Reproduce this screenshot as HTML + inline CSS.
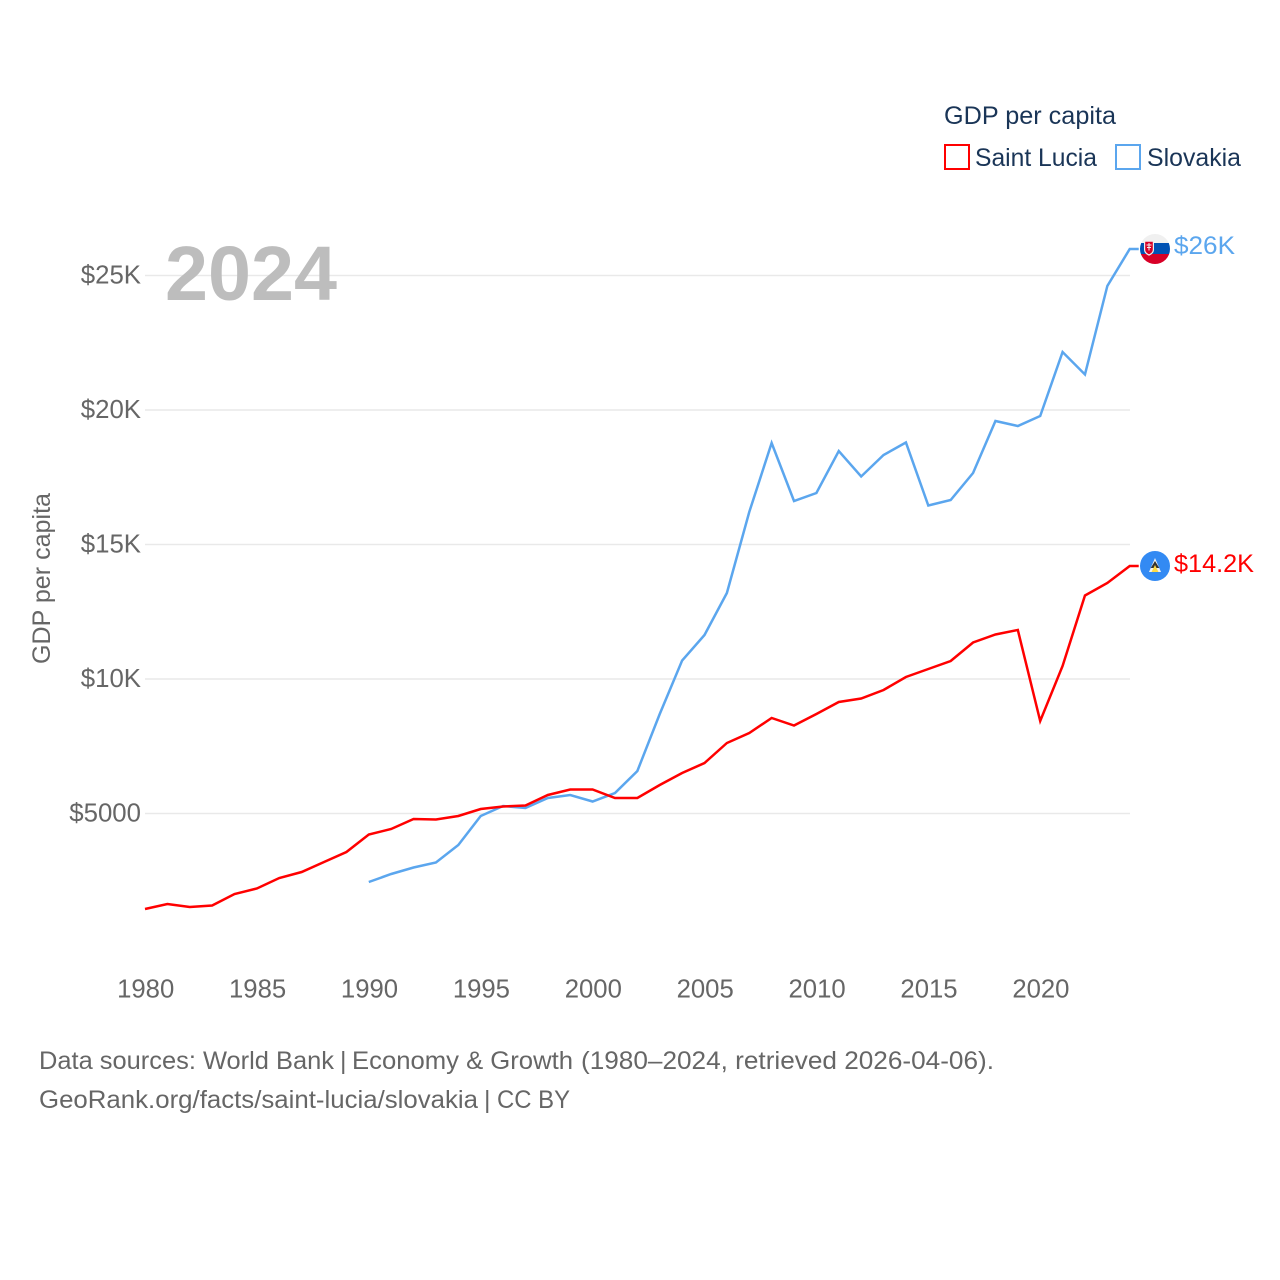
<!DOCTYPE html>
<html>
<head>
<meta charset="utf-8">
<style>
html,body{margin:0;padding:0;background:#fff;width:1280px;height:1280px;overflow:hidden}
svg{display:block;font-family:"Liberation Sans",sans-serif}
</style>
</head>
<body>
<svg id="chart" xmlns="http://www.w3.org/2000/svg" width="1280" height="1280" viewBox="0 0 1280 1280">
  <defs>
    <clipPath id="sk-clip"><circle cx="1155" cy="249" r="15"/></clipPath>
  </defs>
  <rect width="1280" height="1280" fill="#fff"/>
  <g id="grid"></g>
  <text x="165" y="300" font-size="77" font-weight="700" fill="#bdbdbd" textLength="172" lengthAdjust="spacingAndGlyphs">2024</text>
  <g id="yticks"></g>
  <g id="xticks"></g>
  <text transform="translate(50,578.500) rotate(-90)" text-anchor="middle" font-size="25" fill="#666" textLength="171" lengthAdjust="spacingAndGlyphs">GDP per capita</text>
  <g id="series"></g>

  <g clip-path="url(#sk-clip)">
    <rect x="1140" y="234" width="30" height="9" fill="#f0f0f0"/>
    <rect x="1140" y="243" width="30" height="11" fill="#0052b4"/>
    <rect x="1140" y="254" width="30" height="10" fill="#d80027"/>
    <path d="M1144 240.500h10v9c0 3.500-2.800 5.200-5 6.200c-2.200-1-5-2.700-5-6.200z" fill="#f0f0f0"/>
    <path d="M1145.200 241.700h7.600v7.800c0 2.600-1.900 3.900-3.800 4.800c-1.900-.9-3.800-2.200-3.800-4.800z" fill="#d80027"/>
    <path d="M1148.500 243h1v1.500h2v1h-2v1.500h1.500v1h-1.500v2.500h-1v-2.500h-1.500v-1h1.500v-1.500h-2v-1h2z" fill="#f0f0f0"/>
  </g>
  <g>
    <circle cx="1155" cy="566" r="15" fill="#338af3"/>
    <path d="M1155 558l6 14h-12z" fill="#f3f3f3"/>
    <path d="M1155 561l4.300 7h-8.600z" fill="#333"/>
    <path d="M1155 565l3.500 7h-7z" fill="#ffda44"/>
  </g>

  <text x="1174" y="254" font-size="25" fill="#5ba6ee" textLength="61" lengthAdjust="spacingAndGlyphs">$26K</text>
  <text x="1174" y="572" font-size="25" fill="#ff0000" textLength="80" lengthAdjust="spacingAndGlyphs">$14.2K</text>

  <g>
    <text x="944" y="124" font-size="25" fill="#1a3557" textLength="172" lengthAdjust="spacingAndGlyphs">GDP per capita</text>
    <rect x="945" y="145" width="24" height="24" fill="none" stroke="#ff0000" stroke-width="2"/>
    <text x="975" y="166" font-size="25" fill="#1a3557" textLength="122" lengthAdjust="spacingAndGlyphs">Saint Lucia</text>
    <rect x="1116" y="145" width="24" height="24" fill="none" stroke="#5ba6ee" stroke-width="2"/>
    <text x="1147" y="166" font-size="25" fill="#1a3557" textLength="94" lengthAdjust="spacingAndGlyphs">Slovakia</text>
  </g>

  <g font-size="25" fill="#666">
    <text y="1069"><tspan x="39" textLength="295" lengthAdjust="spacingAndGlyphs">Data sources: World Bank</tspan><tspan x="340">|</tspan><tspan x="352" textLength="221" lengthAdjust="spacingAndGlyphs">Economy &amp; Growth</tspan><tspan x="581" textLength="413" lengthAdjust="spacingAndGlyphs">(1980–2024, retrieved 2026-04-06).</tspan></text>
    <text y="1108"><tspan x="39" textLength="439" lengthAdjust="spacingAndGlyphs">GeoRank.org/facts/saint-lucia/slovakia</tspan><tspan x="484">|</tspan><tspan x="497" textLength="73" lengthAdjust="spacingAndGlyphs">CC BY</tspan></text>
  </g>
</svg>
<script>
const years = [1980,1981,1982,1983,1984,1985,1986,1987,1988,1989,1990,1991,1992,1993,1994,1995,1996,1997,1998,1999,2000,2001,2002,2003,2004,2005,2006,2007,2008,2009,2010,2011,2012,2013,2014,2015,2016,2017,2018,2019,2020,2021,2022,2023,2024];
const saintLucia = [1450,1636,1524,1580,2007,2212,2602,2825,3197,3569,4219,4424,4796,4777,4907,5167,5260,5297,5688,5892,5892,5576,5576,6059,6506,6877,7621,7993,8550,8271,8699,9145,9275,9591,10074,10372,10669,11357,11654,11822,8439,10483,13104,13569,14201];
const slovakia = [null,null,null,null,null,null,null,null,null,null,2454,2751,2993,3178,3829,4907,5279,5204,5576,5688,5446,5762,6580,8699,10688,11636,13197,16208,18773,16617,16914,18476,17528,18327,18792,16450,16654,17658,19591,19405,19777,22156,21320,24610,25985];
const yTickValues = [5000,10000,15000,20000,25000];
const yTickLabels = ["$5000","$10K","$15K","$20K","$25K"];
const xTickValues = [1980,1985,1990,1995,2000,2005,2010,2015,2020];

const NS = "http://www.w3.org/2000/svg";
function xScale(year){ return 145 + (year - 1980) * 22.38; }
function yScale(value){ return 948 - value * 0.0269; }
function make(tag, parent, attrs){
  const el = document.createElementNS(NS, tag);
  for (const k in attrs) el.setAttribute(k, attrs[k]);
  parent.appendChild(el);
  return el;
}

const grid = document.getElementById("grid");
const yticks = document.getElementById("yticks");
const xticks = document.getElementById("xticks");
const seriesGroup = document.getElementById("series");

yTickValues.forEach(function(v, i){
  const line = make("line", grid, {x1:145, x2:1130, y1:yScale(v), y2:yScale(v), stroke:"#e9e9e9", "stroke-width":1.5});
  
  
  const label = make("text", yticks, {x:141, y:yScale(v) + 8, "text-anchor":"end", "font-size":25.8, fill:"#666"});
  
  
  label.textContent = yTickLabels[i];
});

xTickValues.forEach(function(v){
  const label = make("text", xticks, {x:xScale(v) + 0.7, y:997.5, "text-anchor":"middle", "font-size":25.7, fill:"#666"});
  
  
  label.textContent = String(v);
});

function pathFor(values){
  let d = "";
  let lastX = 0, lastY = 0;
  values.forEach(function(v, i){
    if (v === null) return;
    lastX = xScale(years[i]);
    lastY = yScale(v);
    d += (d ? "L" : "M") + lastX.toFixed(2) + " " + lastY.toFixed(2);
  });
  d += "L" + (lastX + 9).toFixed(2) + " " + lastY.toFixed(2);
  return d;
}

const slovakiaLine = make("path", seriesGroup, {d:pathFor(slovakia), fill:"none", stroke:"#5ba6ee", "stroke-width":2.5, "stroke-linejoin":"miter"});



const saintLuciaLine = make("path", seriesGroup, {d:pathFor(saintLucia), fill:"none", stroke:"#ff0000", "stroke-width":2.5, "stroke-linejoin":"miter"});


</script>
</body>
</html>
